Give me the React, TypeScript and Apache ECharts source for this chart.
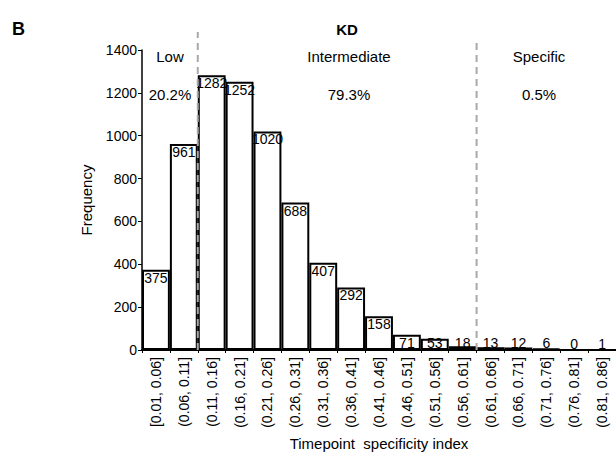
import React, { useEffect, useRef } from "react";
import * as echarts from "echarts";

// Bins of the timepoint specificity index and their gene counts
const categories = [
  "[0.01, 0.06]", "(0.06, 0.11]", "(0.11, 0.16]", "(0.16, 0.21]", "(0.21, 0.26]",
  "(0.26, 0.31]", "(0.31, 0.36]", "(0.36, 0.41]", "(0.41, 0.46]", "(0.46, 0.51]",
  "(0.51, 0.56]", "(0.56, 0.61]", "(0.61, 0.66]", "(0.66, 0.71]", "(0.71, 0.76]",
  "(0.76, 0.81]", "(0.81, 0.86]",
];
const frequencies = [375, 961, 1282, 1252, 1020, 688, 407, 292, 158, 71, 53, 18, 13, 12, 6, 0, 1];

// Group cut-offs on the index scale and the index range covered by the bins
const indexRange = [0.01, 0.86];
const cutoffs = [0.11, 0.61];
const cutoffTops = [1484, 1447];

const groupNames = ["Low", "Intermediate", "Specific"];
const groupShares = ["20.2%", "79.3%", "0.5%"];

const yTicks = { min: 0, max: 1400, interval: 200 };

const FONT = "Arial, 'Liberation Sans', sans-serif";

export default function App() {
  const ref = useRef<HTMLDivElement>(null);

  useEffect(() => {
    if (!ref.current) return;
    const chart = echarts.init(ref.current, null, { renderer: "svg" });

    const barData = frequencies.map((v) => ({
      value: v,
      label:
        v >= 60
          ? { position: "insideTop", distance: 1, color: "#000" }
          : { position: "insideBottom", distance: 0, color: "#000" },
    }));

    const cutoffSeries = cutoffs.map((c, i) => ({
      type: "line",
      xAxisIndex: 1,
      yAxisIndex: 0,
      data: [
        [c, 0],
        [c, cutoffTops[i]],
      ],
      symbol: "none",
      clip: false,
      z: 10,
      silent: true,
      lineStyle: { color: "#a8a8a8", width: 2, type: [7, 5] },
    }));

    const groupX = [170, 349, 539];
    const graphics: any[] = [
      {
        type: "text",
        left: 12,
        top: 20,
        style: { text: "B", font: `bold 18px ${FONT}`, fill: "#000" },
      },
      {
        type: "text",
        x: 347,
        y: 29,
        style: {
          text: "KD",
          font: `bold 15px ${FONT}`,
          fill: "#000",
          align: "center",
          verticalAlign: "middle",
        },
      },
    ];
    groupNames.forEach((name, i) => {
      graphics.push({
        type: "text",
        x: groupX[i],
        y: 56,
        style: {
          text: name,
          font: `15px ${FONT}`,
          fill: "#000",
          align: "center",
          verticalAlign: "middle",
        },
      });
      graphics.push({
        type: "text",
        x: groupX[i],
        y: 94,
        style: {
          text: groupShares[i],
          font: `15px ${FONT}`,
          fill: "#000",
          align: "center",
          verticalAlign: "middle",
        },
      });
    });

    chart.setOption({
      animation: false,
      backgroundColor: "#fff",
      grid: { left: 142, top: 50, width: 478, bottom: 106, containLabel: false },
      xAxis: [
        {
          type: "category",
          data: categories,
          name: "Timepoint  specificity index",
          nameLocation: "middle",
          nameGap: 86,
          nameTextStyle: { fontFamily: FONT, fontSize: 15, color: "#000" },
          axisLine: { lineStyle: { color: "#000", width: 2 } },
          axisTick: { show: true, length: 3, lineStyle: { color: "#000" } },
          axisLabel: {
            rotate: 90,
            interval: 0,
            fontFamily: FONT,
            fontSize: 14,
            color: "#000",
            margin: 7,
          },
          splitLine: { show: false },
        },
        {
          type: "value",
          min: indexRange[0],
          max: indexRange[1],
          show: false,
          splitLine: { show: false },
        },
      ],
      yAxis: {
        type: "value",
        min: yTicks.min,
        max: yTicks.max,
        interval: yTicks.interval,
        name: "Frequency",
        nameLocation: "middle",
        nameGap: 48,
        nameTextStyle: { fontFamily: FONT, fontSize: 15, color: "#000" },
        axisLine: { show: true, lineStyle: { color: "#000", width: 1.5 } },
        axisTick: { show: true, length: 4, lineStyle: { color: "#000" } },
        axisLabel: {
          fontFamily: FONT,
          fontSize: 14,
          color: "#000",
          margin: 5,
          formatter: (v: number) => String(v),
        },
        splitLine: { show: false },
      },
      series: [
        {
          type: "bar",
          data: barData,
          barCategoryGap: "0%",
          itemStyle: { color: "#fff", borderColor: "#000", borderWidth: 2 },
          label: {
            show: true,
            fontFamily: FONT,
            fontSize: 14,
            color: "#000",
          },
          z: 2,
        },
        ...cutoffSeries,
      ],
      graphic: graphics,
    });

    return () => chart.dispose();
  }, []);

  return (
    <div
      ref={ref}
      style={{ position: "fixed", left: 0, top: 0, width: 616, height: 456 }}
    />
  );
}
